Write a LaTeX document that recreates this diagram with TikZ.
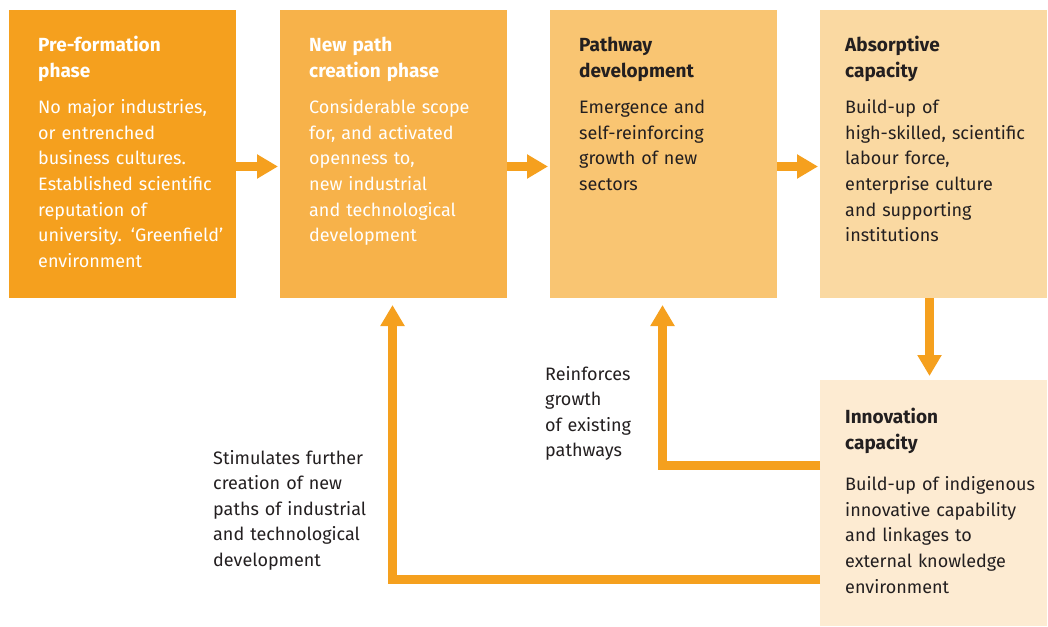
\documentclass[tikz,border=0pt]{standalone}
\usepackage{fontspec}
\setmainfont{Fira Sans}
\usetikzlibrary{arrows.meta,positioning}

\definecolor{phaseA}{HTML}{F5A01E}
\definecolor{phaseB}{HTML}{F7B24A}
\definecolor{phaseC}{HTML}{F9C572}
\definecolor{phaseD}{HTML}{FAD9A2}
\definecolor{phaseE}{HTML}{FDEBD2}
\definecolor{inkdark}{HTML}{231F20}

\newcommand{\phasetitle}[1]{{\fontsize{19}{25.6}\selectfont\bfseries #1}}

\begin{document}
\begin{tikzpicture}[
x=1pt, y=-1pt,
phasebox/.style={anchor=north west, minimum width=227pt, minimum height=288pt, inner sep=0pt, outer sep=0pt},
phasetext/.style={anchor=base west, inner sep=0pt, text width=215pt, align=left, font=\fontsize{18}{25.6}\selectfont},
sidetext/.style={anchor=base west, inner sep=0pt, text width=170pt, align=left, text=inkdark, font=\fontsize{18}{25.6}\selectfont},
flow/.style={draw=phaseA, line width=9pt, -{Triangle[length=21pt,width=23pt]}}
]
\useasboundingbox (0,0) rectangle (1048,626);

% phase boxes
\node[phasebox, fill=phaseA] (pre) at (9,10) {};
\node[phasebox, fill=phaseB] (newpath) at (280,10) {};
\node[phasebox, fill=phaseC] (pathdev) at (550,10) {};
\node[phasebox, fill=phaseD] (absorb) at (820,10) {};
\node[phasebox, fill=phaseE, minimum height=246pt] (innov) at (820,380) {};

\node[phasetext, text=white] (pretxt) at ([xshift=29pt,yshift=-41.5pt]pre.north west)
  {\phasetitle{Pre-formation}\\\phasetitle{phase}\\[11pt]
   No major industries,\\or entrenched\\business cultures.\\Established scientific\\reputation of\\university. ‘Greenfield’\\environment};
\node[phasetext, text=white] (newtxt) at ([xshift=29pt,yshift=-41.5pt]newpath.north west)
  {\phasetitle{New path}\\\phasetitle{creation phase}\\[11pt]
   Considerable scope\\for, and activated\\openness to,\\new industrial\\and technological\\development};
\node[phasetext, text=inkdark] (devtxt) at ([xshift=29pt,yshift=-41.5pt]pathdev.north west)
  {\phasetitle{Pathway}\\\phasetitle{development}\\[11pt]
   Emergence and\\self-reinforcing\\growth of new\\sectors};
\node[phasetext, text=inkdark] (abstxt) at ([xshift=25pt,yshift=-41.5pt]absorb.north west)
  {\phasetitle{Absorptive}\\\phasetitle{capacity}\\[11pt]
   Build-up of\\high-skilled, scientific\\labour force,\\enterprise culture\\and supporting\\institutions};
\node[phasetext, text=inkdark] (innovtxt) at ([xshift=25pt,yshift=-43.5pt]innov.north west)
  {\phasetitle{Innovation}\\\phasetitle{capacity}\\[16pt]
   Build-up of indigenous\\innovative capability\\and linkages to\\external knowledge\\environment};

% feedback labels
\node[sidetext] (reinf) at (545,380) {Reinforces\\growth\\of existing\\pathways};
\node[sidetext] (stim) at (213,464) {Stimulates further\\creation of new\\paths of industrial\\and technological\\development};

% forward arrows
\draw[flow] ([yshift=-12.5pt]pre.east) -- ([xshift=-2pt,yshift=-12.5pt]newpath.west);
\draw[flow] ([yshift=-12.5pt]newpath.east) -- ([xshift=-2pt,yshift=-12.5pt]pathdev.west);
\draw[flow] ([yshift=-12.5pt]pathdev.east) -- ([xshift=-2pt,yshift=-12.5pt]absorb.west);
\draw[flow] ([xshift=-4pt]absorb.south) -- ([xshift=-4pt,yshift=4pt]innov.north);

% feedback arrows
\draw[flow] ([yshift=-85.5pt]innov.north west) -| ([xshift=-1pt,yshift=-7pt]pathdev.south);
\draw[flow] ([yshift=-199.5pt]innov.north west) -| ([xshift=-1pt,yshift=-7pt]newpath.south);
\end{tikzpicture}
\end{document}
